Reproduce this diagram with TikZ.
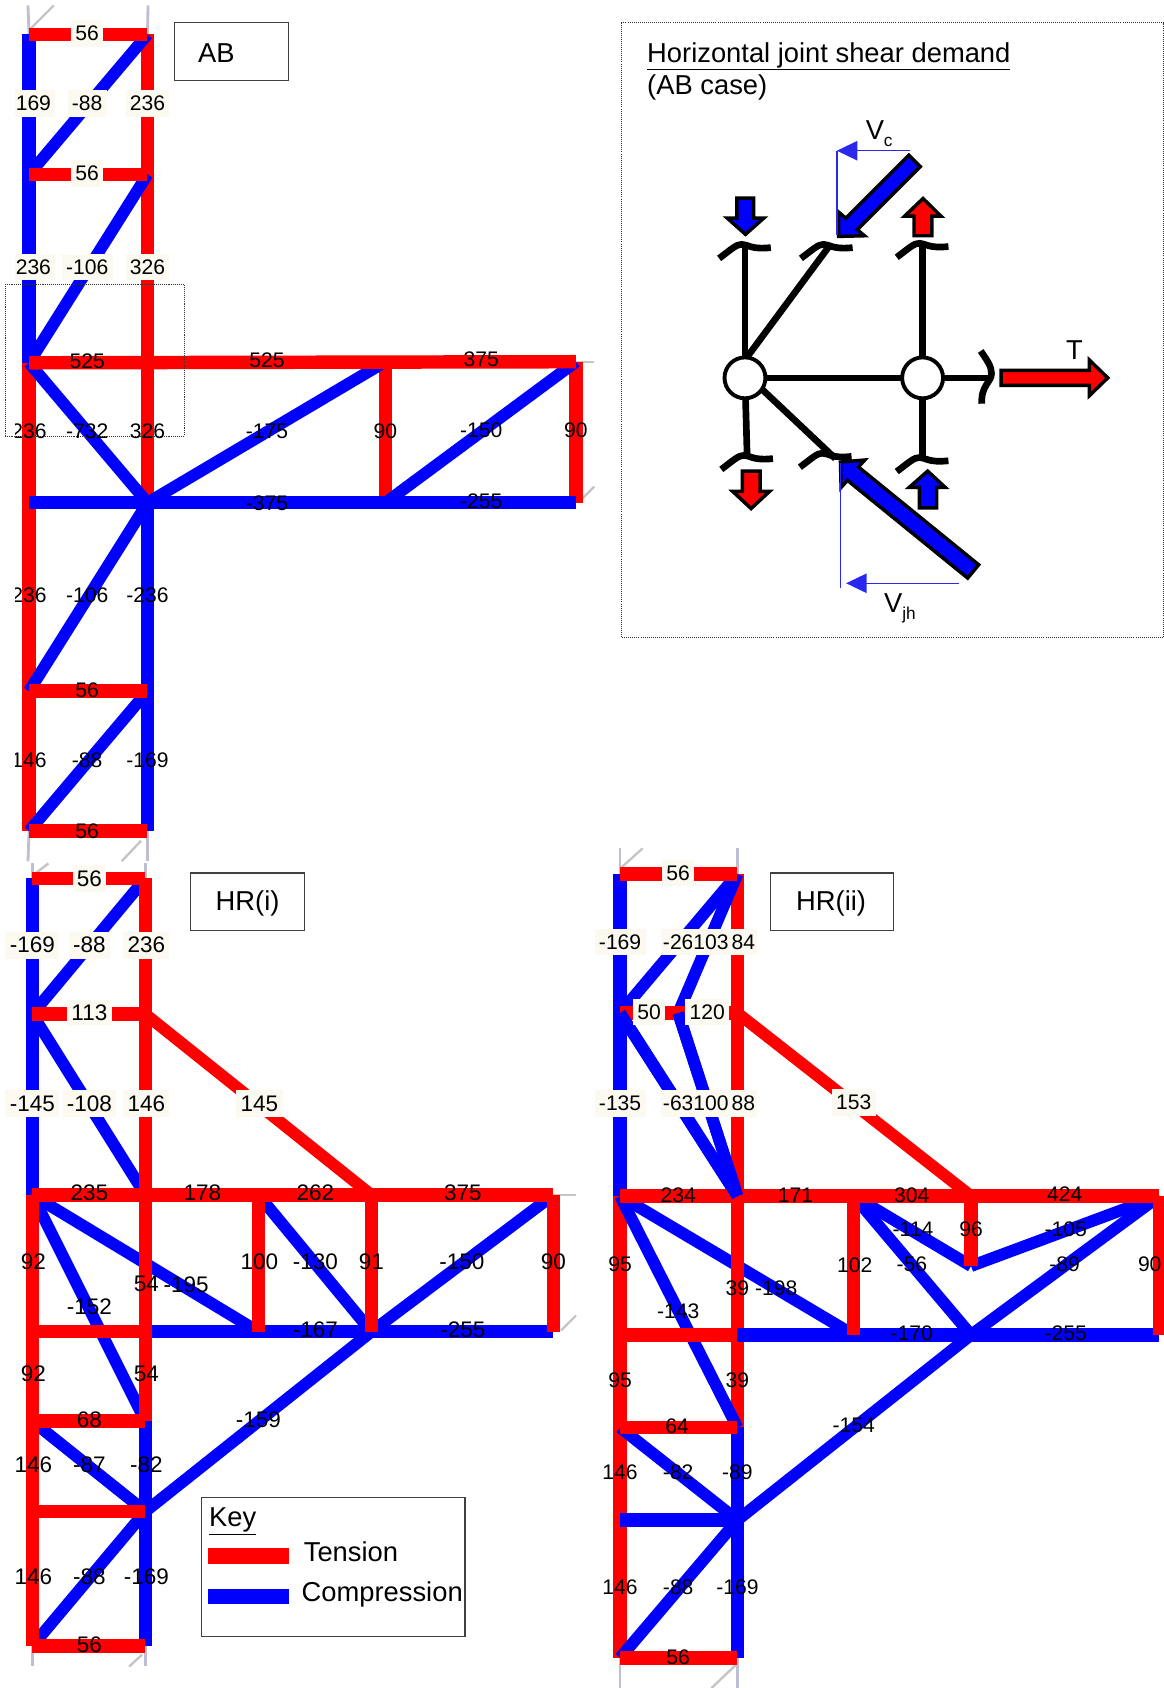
\documentclass[tikz,border=0pt]{standalone}
\usepackage{fontspec}
\setmainfont{Liberation Sans}
\usetikzlibrary{arrows.meta}
\definecolor{tred}{RGB}{255,0,0}
\definecolor{cblue}{RGB}{0,0,255}
\definecolor{cream}{RGB}{251,249,240}
\definecolor{stubA}{RGB}{190,190,212}
\definecolor{stubB}{RGB}{200,196,198}
\definecolor{thinb}{RGB}{40,40,240}
\tikzset{
  tb/.style={draw=tred,line width=12.5pt},
  cb/.style={draw=cblue,line width=12.5pt},
  td/.style={draw=tred,line width=11pt},
  cd/.style={draw=cblue,line width=11pt},
  stub/.style={draw=stubA,line width=2.6pt},
  stubd/.style={draw=stubB,line width=2.2pt},
  lbl/.style={inner sep=0pt,font=\fontsize{20.9}{22}\selectfont},
  blbl/.style={lbl,fill=cream,inner xsep=4pt,inner ysep=5pt},
  slbl/.style={inner sep=0pt,font=\fontsize{19.6}{22}\selectfont},
  sblbl/.style={slbl,fill=cream,inner xsep=4pt,inner ysep=5.5pt},
  tblbl/.style={sblbl,inner xsep=1.4pt},
  tagbox/.style={draw=black!75,line width=1.1pt},
  bigtxt/.style={inner sep=0pt,font=\fontsize{25.4}{27}\selectfont},
  jline/.style={draw=black,line width=6.2pt},
  jcirc/.style={draw=black,fill=white,line width=3.6pt,circle,minimum size=38pt,inner sep=0pt},
  block/.style={draw=black,line width=3.2pt,miter limit=6},
  thin/.style={draw=thinb,line width=1.2pt},
  thina/.style={thin,-{Triangle[length=19pt,width=18pt]}},
  brk/.pic={\draw[jline] (-24,13) .. controls (-12,4) and (-8,0) .. (-3,0) .. controls (3,0) and (5,5) .. (24,3);},
}
\newcommand{\joints}[1]{\foreach \n/\x/\y in {#1} \coordinate (\n) at (\x,\y);}
\newcommand{\barsT}[1]{\foreach \a/\b in {#1} \draw[tb] (\a)--(\b);}
\newcommand{\barsC}[1]{\foreach \a/\b in {#1} \draw[cb] (\a)--(\b);}
\newcommand{\diagC}[1]{\foreach \a/\b in {#1} \draw[cd] (\a)--(\b);}
\newcommand{\diagT}[1]{\foreach \a/\b in {#1} \draw[td] (\a)--(\b);}
\newcommand{\stubs}[1]{\foreach \a/\b in {#1} \draw[stub] (\a)--(\b);}
\newcommand{\stubds}[1]{\foreach \a/\b in {#1} \draw[stubd] (\a)--(\b);}
\begin{document}
\begin{tikzpicture}[x=1pt,y=-1pt]
\useasboundingbox (0,0) rectangle (1081,1568);
\fill[white] (0,0) rectangle (1081,1568);

%% ---------- AB truss ----------
\joints{a1/27/32,b1/137/32,a2/27/162,b2/137/162,a3/27/337,b3/137/337,a4/27/467,b4/137/467,
 a5/27/642,b5/137/642,a6/27/772,b6/137/772,c3/358/336,c4/358/467,d3/535/336,d4/535/467,
 sa1/26/5,sb1/137.5/5,sd1/50/5,sd2/28/27,sa2/26/800,sb2/137/800,sd3/113/800,sd4/131/781,
 se1/552/336,se2/552/452,se3/538/466}
\stubs{a1/sa1,b1/sb1,a6/sa2,b6/sb2}
\stubds{sd2/sd1,sd4/sd3,d3/se1,se3/se2}
\barsC{a1/a3,b4/b6}
\barsT{b1/b4,a3/a6,c3/c4,d3/d4}
\diagC{a2/b1,a3/b2,a3/b4,a5/b4,a6/b5,b4/c3,c4/d3}
\barsT{a1/b1,a2/b2,a3/d3,a5/b5,a6/b6}
\barsC{a4/d4}

\draw[densely dotted,line width=.8pt,black!80] (5,264) rectangle (171,405);
\node[tagbox,minimum width=106pt,minimum height=54pt] (tagab) at (215,48) {};
\node[bigtxt] (tagabt) at (201,49) {AB};

\begin{scope}
\clip (14,0) rectangle (1081,1568);
\foreach \x/\y/\t [count=\i] in {31/96/169,31/248/236}
  \node[sblbl] (abL\i) at (\x,\y) {\t};
\foreach \x/\y/\t [count=\i] in {27/401/236,27/553/236,27/706/146}
  \node[slbl] (abC\i) at (\x,\y) {\t};
\end{scope}
\foreach \x/\y/\t [count=\i] in {81/31/56,81/96/-88,137/96/236,81/161/56,81/248/-106,137/248/326}
  \node[sblbl] (abB\i) at (\x,\y) {\t};
\foreach \x/\y/\t [count=\i] in {81/336/525,248/335/525,447/334/375,81/401/-732,137/401/326,248/401/-175,
  358/401/90,447/400/-150,535/400/90,248/467/-375,447/466/-255,81/553/-106,137/553/-236,81/641/56,
  81/706/-88,137/706/-169,81/772/56}
  \node[slbl] (abU\i) at (\x,\y) {\t};

%% ---------- Joint panel ----------
\draw[densely dotted,line width=.9pt,black!80] (577,21) rectangle (1081,592);
\node[bigtxt,anchor=base west] (ttl) at (601,58) {\underline{Horizontal joint shear demand}};
\node[bigtxt,anchor=base west] (ttl2) at (601,88) {(AB case)};

\coordinate (j1) at (692,351); \coordinate (j2) at (857,351);
\coordinate (j1t) at (693,333); \coordinate (j1b) at (704,358);
\coordinate (u1) at (692,227); \coordinate (u2) at (768,227); \coordinate (u2e) at (770,229); \coordinate (u3) at (857,226);
\coordinate (l1) at (694,423); \coordinate (l2) at (767,421); \coordinate (l2e) at (776,426); \coordinate (l3) at (857,425);
\coordinate (r1) at (921,351);
\draw[jline] (j1)--(u1); \draw[jline] (j1t)--(u2e); \draw[jline] (j2)--(u3);
\draw[jline] (j1)--(l1); \draw[jline] (j1b)--(l2e); \draw[jline] (j2)--(l3);
\draw[jline] (j1)--(j2); \draw[jline] (j2)--(r1);
\pic at (u1) {brk}; \pic at (u2) {brk}; \pic at (u3) {brk};
\pic at (l1) {brk}; \pic at (l2) {brk}; \pic at (l3) {brk};
\draw[jline] (911,326) .. controls (917,335) and (921,340) .. (921,347) .. controls (921,355) and (911,358) .. (912,375);
\node[jcirc] (c1) at (j1) {}; \node[jcirc] (c2) at (j2) {};

% block arrows
\draw[block,fill=tred] (930,344) -- (1012,344) -- (1012,334.5) -- (1029,351) -- (1012,367.5) -- (1012,358) -- (930,358) -- cycle;
\draw[block,fill=cblue] (684.5,184) -- (700,184) -- (700,202.6) -- (709.5,202.6) -- (692.5,217.7) -- (675.5,202.6) -- (684.5,202.6) -- cycle;
\draw[block,fill=tred] (849,219) -- (865.6,219) -- (865.6,200.7) -- (874,200.7) -- (857.4,184.4) -- (840.4,200.7) -- (849,200.7) -- cycle;
\draw[block,fill=tred] (689.5,437.6) -- (706,437.6) -- (706,456.5) -- (714.8,456.5) -- (697.7,472.4) -- (680.6,456.5) -- (689.5,456.5) -- cycle;
\draw[block,fill=cblue] (854,471.7) -- (870,471.7) -- (870,452.7) -- (878,452.7) -- (861.7,437.6) -- (844.6,452.7) -- (854,452.7) -- cycle;
\draw[block,fill=cblue] (854.8,154.8) -- (796.3,213.3) -- (803,219) -- (779,219.6) -- (779,197) -- (785.7,202.7) -- (844.2,144.2) -- cycle;
\draw[block,fill=cblue] (909.1,524.6) -- (797.4,433.8) -- (803.3,427.3) -- (780.7,429.2) -- (781.3,452.8) -- (787.2,446.2) -- (898.9,537) -- cycle;

% thin construction lines
\coordinate (vc1) at (845.3,140); \coordinate (vc2) at (777.4,140); \coordinate (vc3) at (777.4,218);
\coordinate (vj1) at (890.6,541.8); \coordinate (vj2) at (786,541.8); \coordinate (vj3) at (780.7,430); \coordinate (vj4) at (780.7,546);
\draw[thina] (vc1)--(vc2); \draw[thin] (vc2)--(vc3);
\draw[thina] (vj1)--(vj2); \draw[thin] (vj3)--(vj4);
\node[bigtxt,anchor=base west] (vclab) at (804,130) {V\raisebox{-6pt}{\fontsize{16}{16}\selectfont c}};
\node[bigtxt,anchor=base west] (vjlab) at (821,569) {V\raisebox{-6pt}{\fontsize{16}{16}\selectfont jh}};
\node[bigtxt] (tlab) at (998,325) {T};

%% ---------- HR(i) truss ----------
\joints{e1/30/816,f1/135/816,e2/30/942,f2/135/942,e3/30/1110,f3/135/1110,e4/30/1237,f4/135/1237,
 e5/30/1320,f5/135/1320,e6/30/1404,f6/135/1404,e7/30/1529,f7/135/1529,
 g3/240/1110,g4/240/1237,h3/345/1110,h4/345/1237,k3/514/1110,k4/514/1237,
 qa1/30/802,qb1/135/802,qd1/45/802,qd2/32/812,qa2/30/1548,qb2/135/1548,qd3/120/1548,qd4/132/1537,
 qe1/535/1110,qe2/535/1222,qe3/521/1236}
\stubs{e1/qa1,f1/qb1,e7/qa2,f7/qb2}
\stubds{qd2/qd1,qd4/qd3,k3/qe1,qe3/qe2}
\diagC{e2/f1,e2/f3,e3/g4,e3/f5,e5/f6,e7/f6,g3/h4,h4/k3,f6/h4}
\barsC{e1/e3,f5/f7,f4/k4}
\barsT{f1/f5,e3/e7}
\barsT{g3/g4,h3/h4,k3/k4}
\diagT{f2/h3}
\barsT{e1/f1,e2/f2,e3/k3,e4/f4,e5/f5,e6/f6,e7/f7}

\node[tagbox,minimum width=106pt,minimum height=53pt] (tagi) at (230,837.5) {};
\node[bigtxt] (tagit) at (230,839) {HR(i)};
\foreach \x/\y/\t [count=\i] in {83/816/56,30/878/-169,83/878/-88,136/878/236,83/941/113,30/1025/-145,
  83/1025/-108,136/1025/146,241/1025/145}
  \node[blbl] (iB\i) at (\x,\y) {\t};
\foreach \x/\y/\t [count=\i] in {83/1108/235,188/1108/178,293/1108/262,430/1108/375,31/1172/92,241/1172/100,
  293/1172/-130,345/1172/91,429/1172/-150,514/1172/90,136/1193/54,173/1193/-195,83/1214/-152,
  293/1235/-167,430/1235/-255,31/1276/92,136/1276/54,83/1319/68,240/1319/-159,31/1361/146,83/1361/-87,
  136/1361/-82,31/1465/146,83/1465/-88,136/1465/-169,83/1528/56}
  \node[lbl] (iU\i) at (\x,\y) {\t};

% key
\node[tagbox,minimum width=245pt,minimum height=129pt] (keybox) at (309.5,1455.5) {};
\node[bigtxt,anchor=base west] (keyt) at (194,1418) {\underline{Key}};
\coordinate (kt1) at (193,1445.5); \coordinate (kt2) at (268,1445.5);
\coordinate (kc1) at (193,1483); \coordinate (kc2) at (268,1483);
\draw[draw=tred,line width=14.5pt] (kt1)--(kt2);
\draw[draw=cblue,line width=14.5pt] (kc1)--(kc2);
\node[bigtxt,anchor=west] (keyT) at (282,1441) {Tension};
\node[bigtxt,anchor=west] (keyC) at (280,1481) {Compression};

%% ---------- HR(ii) truss ----------
\joints{m1/576/812,n1/685/812,m2/576/941,n2/685/941,p2/630/941,m3/576/1111,n3/685/1111,m4/576/1240,n4/685/1240,
 m5/576/1326,n5/685/1326,m6/576/1412,n6/685/1412,m7/576/1540,n7/685/1540,
 o3/793/1111,o4/793/1240,r3/902/1111,r4/902/1240,rm/902/1176,t3/1077/1111,t4/1077/1240,
 wa1/576/788,wb1/685/788,wd1/597/788,wd2/577/806,wa2/576/1568,wb2/685/1568,wd3/661/1568,wd4/684/1546}
\stubs{m1/wa1,n1/wb1,m7/wa2,n7/wb2}
\stubds{wd2/wd1,wd4/wd3}
\diagC{m3/o4}
\barsC{m1/m3,n5/n7}
\barsT{n1/n5,m3/m7}
\diagC{m3/n5,m2/n1,p2/n1,m2/n3,p2/n3,m5/n6,m7/n6,n6/r4,o3/rm,o3/r4,rm/t3,r4/t3}
\barsC{n4/t4}
\barsT{o3/o4,r3/rm,t3/t4}
\diagT{n2/r3}
\barsT{m1/n1,m2/n2,m3/t3,m4/n4,m5/n5,m7/n7}
\barsC{m6/n6}
\diagC{m2/n3,p2/n3}

\node[tagbox,minimum width=114pt,minimum height=53pt] (tagii) at (773,837.5) {};
\node[bigtxt] (tagiit) at (772,839) {HR(ii)};
\foreach \x/\y/\t [count=\i] in {630/811/56,576/875/-169,603/940/50,657/940/120,576/1025/-135,793/1024/153}
  \node[sblbl] (iiB\i) at (\x,\y) {\t};
\foreach \x/\y/\t [count=\i] in {630/875/-26,660.5/875/103,690.5/875/84,630/1025/-63,660.5/1025/100,690.5/1025/88}
  \node[tblbl] (iiT\i) at (\x,\y) {\t};
\foreach \x/\y/\t [count=\i] in {630/1110/234,739/1110/171,847/1110/304,989/1109/424,848/1142/-114,902/1142/96,
  990/1142/-105,576/1174/95,794/1175/102,847/1174/-56,989/1174/-89,1068/1174/90,685/1197/39,721/1197/-198,
  630/1218/-143,847/1238/-170,990/1238/-255,576/1282/95,685/1282/39,629/1325/64,793/1324/-154,
  576/1368/146,630/1368/-82,685/1368/-89,576/1474/146,630/1474/-88,685/1474/-169,630/1539/56}
  \node[slbl] (iiU\i) at (\x,\y) {\t};
\end{tikzpicture}
\end{document}
